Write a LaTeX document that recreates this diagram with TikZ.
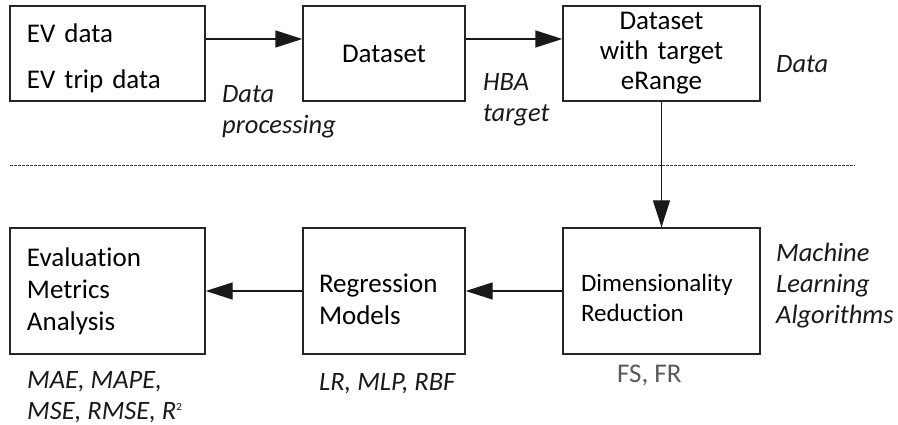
\documentclass[tikz,border=0pt]{standalone}
\usepackage{fontspec}
\setmainfont{Carlito}[Ligatures={NoCommon}]
\usetikzlibrary{arrows.meta}
\begin{document}
\begin{tikzpicture}[x=1pt,y=-1pt,
  every node/.style={font=\fontsize{27}{32}\selectfont, text=black},
  box/.style={draw=black!85, line width=1.4pt, inner ysep=0pt, inner xsep=#1, minimum height=95pt},
  tall/.style={minimum height=126pt},
  note/.style={font=\fontsize{26.5}{31}\selectfont\itshape, text=black!90, align=left, inner sep=0pt},
  flow/.style={draw=black!90, line width=1.4pt, -{Triangle[length=27pt,width=17pt]}},
  divider/.style={draw=black!75, line width=0.8pt, dash pattern=on 2.5pt off 1.5pt}]
\useasboundingbox (0,0) rectangle (898,425);

% upper row: data preparation
\node[box=17pt, text width=161pt, align=left, minimum width=195pt] (ev) at (107.5,53.5)
  {\rule{0pt}{28pt}EV data\\[14pt]EV trip data};
\node[box=0pt, text width=162pt, align=center, minimum width=162pt] (ds) at (384,53.5) {Dataset};
\node[box=0pt, text width=197pt, align=center, minimum width=197pt,
  font=\fontsize{27}{30}\selectfont] (tgt) at (661.5,53.5) {Dataset\\with target\\eRange};

% lower row: learning and evaluation
\node[box=18pt, tall, text width=161pt, align=left,
  font=\fontsize{25}{30}\selectfont] (dr) at (661.5,291) {\rule{0pt}{32pt}Dimensionality\\Reduction};
\node[box=16pt, tall, text width=130pt, align=left] (reg) at (384,291) {\rule{0pt}{36pt}Regression\\Models};
\node[box=17pt, tall, text width=161pt, align=left] (eval) at (107.5,291)
  {Evaluation\\Metrics\\Analysis};

% connectors
\draw[flow] (ev.east |- 0,39) -- (ds.west |- 0,39);
\draw[flow] (ds.east |- 0,39) -- (tgt.west |- 0,39);
\draw[flow] (tgt.south) -- (dr.north);
\draw[flow] (dr.west) -- (reg.east);
\draw[flow] (reg.west) -- (eval.east);

% separator between the two stages
\coordinate (sepL) at (10,165);
\coordinate (sepR) at (855,165);
\draw[divider] (sepL) -- (sepR);
\draw[line width=1.4pt, draw=black!90] (tgt.south) -- (dr.north -| tgt.south) ++(0,-27);

% annotations
\node[note, anchor=west] (lproc) at (222,112) {Data\\processing};
\node[note, anchor=west] (lhba) at (483,100) {HBA\\target};
\node[note, anchor=west] (ldata) at (776,64) {Data};
\node[note, anchor=west] (lml) at (776,286) {Machine\\Learning\\Algorithms};
\node[anchor=west, inner sep=0pt, text=black!65] (lfs) at (617,375) {FS, FR};
\node[note, anchor=west] (lreg) at (319,384) {LR, MLP, RBF};
\node[note, anchor=west] (lmet) at (27,397)
  {MAE, MAPE,\\MSE, RMSE, R\raisebox{9pt}{\upshape\fontsize{11}{11}\selectfont 2}};
\end{tikzpicture}
\end{document}
